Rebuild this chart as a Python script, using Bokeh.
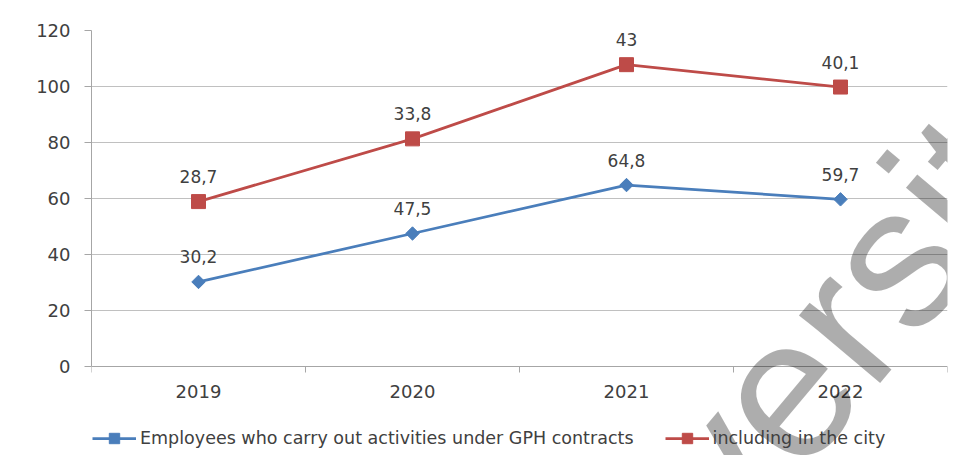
import numpy as np
from bokeh.plotting import figure
from bokeh.models import Range1d, FixedTicker, Legend, LegendItem, Label
from bokeh.core.properties import value
from bokeh.embed import file_html
from bokeh.resources import INLINE

# ---- data -------------------------------------------------------------
years = ["2019", "2020", "2021", "2022"]
gph_contracts = [30.2, 47.5, 64.8, 59.7]
in_city = [28.7, 33.8, 43.0, 40.1]
y_ticks = [0, 20, 40, 60, 80, 100, 120]
series_names = ["Employees who carry out activities under GPH contracts",
                "including in the city"]
watermark = "University"

# ---- style ------------------------------------------------------------
BLUE = "#4a7ebb"
RED = "#be4b48"
TEXT = "#404040"
GRID = "#c0c0c0"
AXIS = "#a6a6a6"
FONT = "DejaVu Sans"

# the plotting frame reaches below the x axis so that the legend and the
# watermark (both drawn inside the frame) are not clipped
FRAME_T, AXIS_Y, FRAME_B = 30, 366, 455
PX_PER_UNIT = (AXIS_Y - FRAME_T) / (y_ticks[-1] - y_ticks[0])
y_low = y_ticks[0] - (FRAME_B - AXIS_Y) / PX_PER_UNIT

x = np.arange(len(years)) + 0.5
blue_y = np.array(gph_contracts)
red_y = blue_y + np.array(in_city)  # stacked line chart


def fmt(v):
    return f"{v:g}".replace(".", ",")


p = figure(width=957, height=461, frame_width=856, frame_height=FRAME_B - FRAME_T,
           output_backend="svg", toolbar_location=None,
           x_range=Range1d(0, len(years)), y_range=Range1d(y_low, y_ticks[-1]),
           min_border_left=91, min_border_right=10, min_border_top=FRAME_T,
           min_border_bottom=0)
p.outline_line_color = None
p.background_fill_color = "white"
p.border_fill_color = "white"

# x axis at value 0: labels at category centres, ticks at category boundaries
p.xaxis.fixed_location = y_ticks[0]
p.xaxis.ticker = FixedTicker(ticks=[float(v) for v in x],
                             minor_ticks=[float(v) for v in range(len(years) + 1)])
p.xaxis.major_label_overrides = {float(v): yr for v, yr in zip(x, years)}
p.xaxis.major_tick_line_color = None
p.xaxis.minor_tick_line_color = AXIS
p.xaxis.minor_tick_out = 6
p.xaxis.minor_tick_in = 0
p.xaxis.axis_line_color = AXIS
p.xaxis.major_label_standoff = 12
p.xaxis.major_label_text_font = FONT
p.xaxis.major_label_text_font_size = "18px"
p.xaxis.major_label_text_color = TEXT
p.xgrid.visible = False

p.yaxis.bounds = (y_ticks[0], y_ticks[-1])
p.yaxis.ticker = FixedTicker(ticks=y_ticks, minor_ticks=[])
p.yaxis.major_tick_out = 7
p.yaxis.major_tick_in = 0
p.yaxis.major_tick_line_color = AXIS
p.yaxis.minor_tick_line_color = None
p.yaxis.axis_line_color = AXIS
p.yaxis.major_label_standoff = 14
p.yaxis.major_label_text_font = FONT
p.yaxis.major_label_text_font_size = "18px"
p.yaxis.major_label_text_color = TEXT
p.ygrid.ticker = FixedTicker(ticks=y_ticks[1:])
p.ygrid.grid_line_color = GRID

bl = p.line(x, blue_y, line_color=BLUE, line_width=2.75)
bs = p.scatter(x, blue_y, marker="square", size=9.5, angle=np.pi / 4,
               fill_color=BLUE, line_color=BLUE)
rl = p.line(x, red_y, line_color=RED, line_width=2.75)
rs = p.scatter(x, red_y, marker="square", size=14, fill_color=RED, line_color=RED)

for ys, vals in ((blue_y, gph_contracts), (red_y, in_city)):
    p.text(x, ys, text=[fmt(v) for v in vals], text_align="center",
           text_baseline="middle", y_offset=-25, text_font=value(FONT),
           text_font_size="17px", text_color=TEXT)

# watermark
wm = Label(x=3.177, y=-13.5, text=watermark, angle=np.deg2rad(50),
           text_font="Liberation Sans", text_font_size="200px",
           text_color="black", text_alpha=0.32, text_align="center",
           text_baseline="alphabetic")
p.add_layout(wm)

# legend inside the (extended) frame, below the axis labels
legend = Legend(items=[LegendItem(label=series_names[0], renderers=[bl, bs]),
                       LegendItem(label=series_names[1], renderers=[rl, rs])],
                orientation="horizontal", location=(1, 4),
                padding=0, margin=0, spacing=31, glyph_width=44,
                glyph_height=26, label_standoff=4,
                border_line_color=None, background_fill_alpha=0,
                label_text_font=FONT, label_text_font_size="17.5px",
                label_text_color=TEXT)
p.add_layout(legend)

open("out.html", "w").write(file_html(p, INLINE))
